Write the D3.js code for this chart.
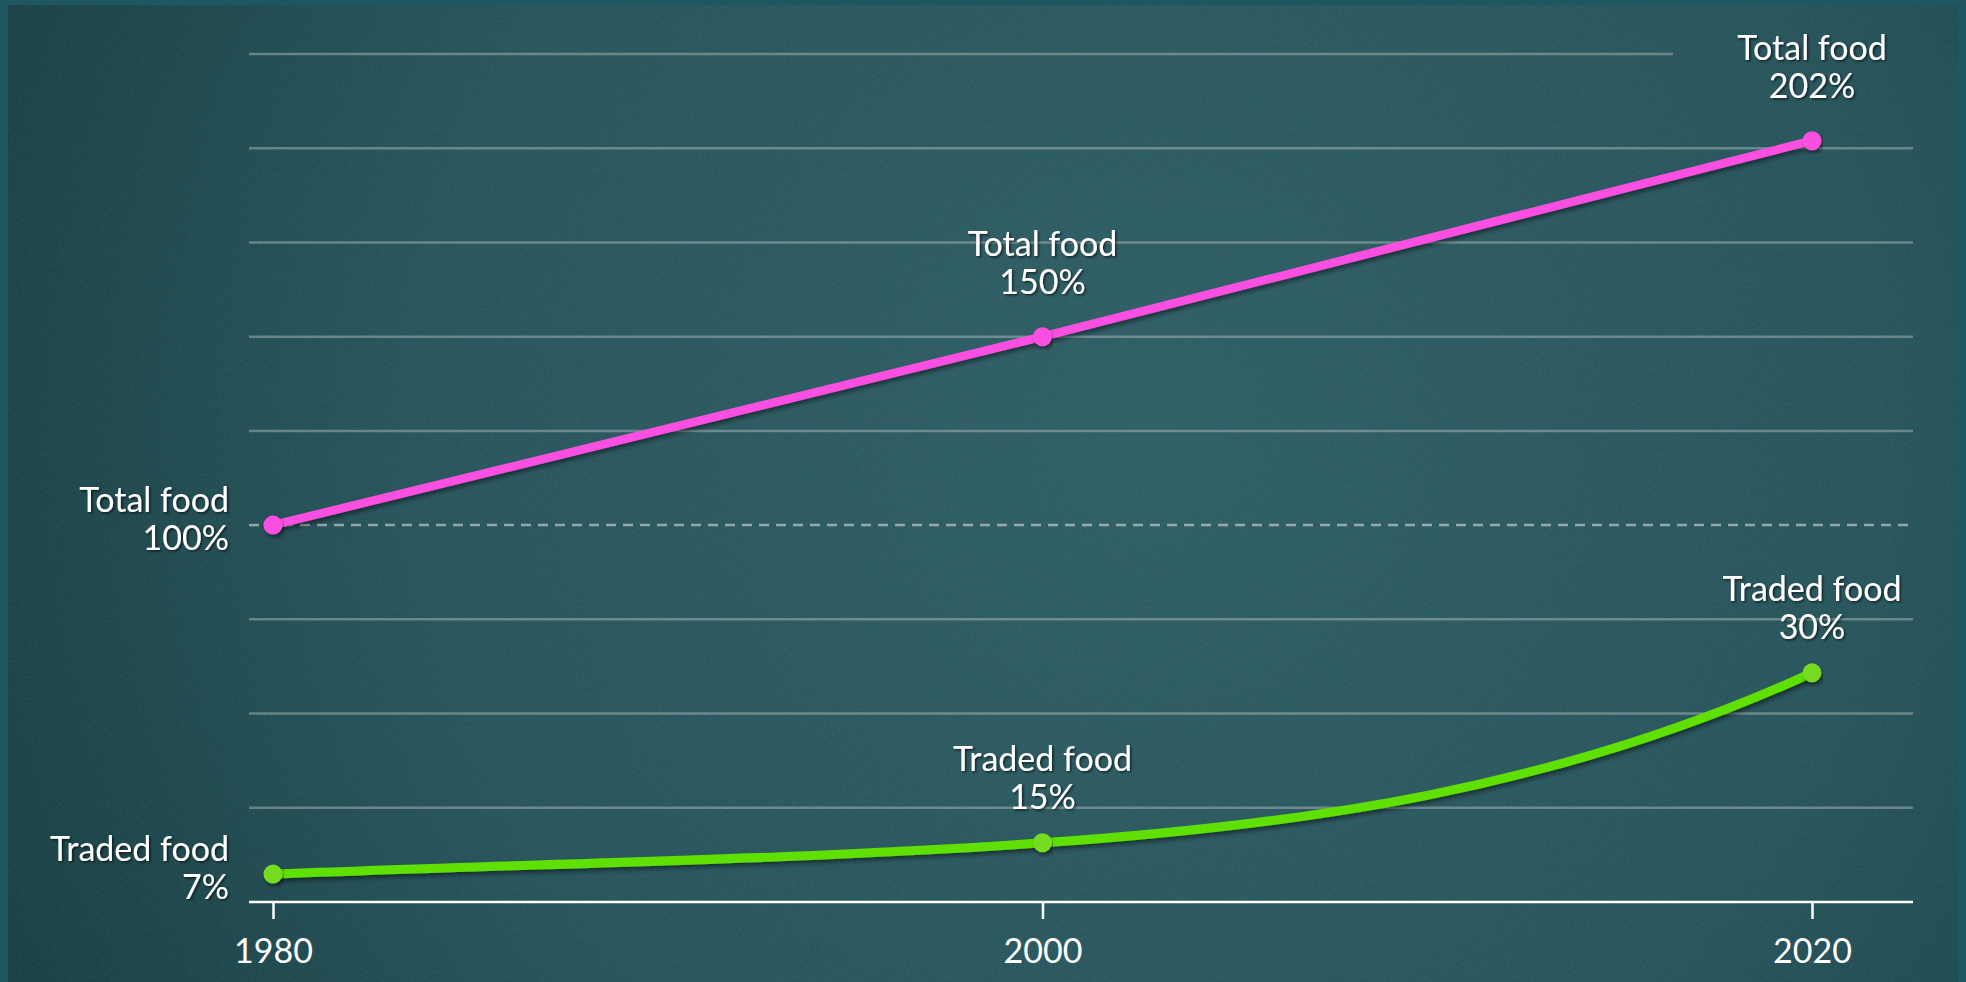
<!DOCTYPE html>
<html>
<head>
<meta charset="utf-8">
<script src="https://cdn.jsdelivr.net/npm/d3@7"></script>
<style>
  html, body { margin: 0; padding: 0; background: #1d545c; }
  svg { display: block; }
  text { font-family: Lato, "Open Sans", sans-serif; fill: #fff; }
</style>
</head>
<body>
<svg id="chart" width="1966" height="982"></svg>
<script>
const years = [1980, 2000, 2020];
const totalFood = [100, 150, 202];
const tradedFood = [7, 15, 30];
// the traded curve is not drawn to scale in the original, these are its heights on the index axis
const tradedLevel = [7.4, 15.7, 60.8];
const gridLevels = [25, 50, 75, 100, 125, 150, 175, 200, 225];
const baseLevel = 100;
const seriesNames = ['Total food', 'Traded food'];

const W = 1966, H = 982;
const plotLeft = 249, plotRight = 1913, topGridRight = 1673;
const pink = '#fb50e2', green = '#5fe000', greenDot = '#76dc22';

const svg = d3.select('#chart');
const x = d3.scaleLinear().domain([1980, 2020]).range([273, 1812]);
const y = d3.scaleLinear().domain([0, 225]).range([902, 54]);

// background
const defs = svg.append('defs');
const bg = defs.append('radialGradient').attr('id', 'bg')
	.attr('gradientUnits', 'userSpaceOnUse')
	.attr('cx', 1150).attr('cy', 430).attr('r', 1350);
bg.append('stop').attr('offset', '0%').attr('stop-color', '#2c5d64');
bg.append('stop').attr('offset', '55%').attr('stop-color', '#24525a');
bg.append('stop').attr('offset', '100%').attr('stop-color', '#113a3e');

const grain = defs.append('filter').attr('id', 'grain')
	.attr('x', 0).attr('y', 0).attr('width', '100%').attr('height', '100%');
grain.append('feTurbulence').attr('type', 'fractalNoise')
	.attr('baseFrequency', '0.9 0.35').attr('numOctaves', 3).attr('seed', 7);
grain.append('feColorMatrix').attr('type', 'saturate').attr('values', 0);

const shadow = defs.append('filter').attr('id', 'shadow')
	.attr('x', '-5%').attr('y', '-20%').attr('width', '110%').attr('height', '140%');
shadow.append('feDropShadow').attr('dx', 2).attr('dy', 3).attr('stdDeviation', 2)
	.attr('flood-color', '#000').attr('flood-opacity', 0.45);

const textShadow = defs.append('filter').attr('id', 'textShadow')
	.attr('x', '-10%').attr('y', '-20%').attr('width', '120%').attr('height', '140%');
textShadow.append('feDropShadow').attr('dx', 1.5).attr('dy', 1.5).attr('stdDeviation', 1)
	.attr('flood-color', '#000').attr('flood-opacity', 0.6);

svg.append('rect').attr('width', W).attr('height', H).attr('fill', '#1e5760');
svg.append('rect').attr('x', 8).attr('y', 5).attr('width', 1950).attr('height', H)
	.attr('fill', 'url(#bg)');
svg.append('rect').attr('x', 8).attr('y', 5).attr('width', 1950).attr('height', H)
	.attr('filter', 'url(#grain)').attr('opacity', 0.09);

// grid
svg.append('g').selectAll('line')
	.data(gridLevels)
	.join('line')
		.attr('x1', plotLeft)
		.attr('x2', d => d === d3.max(gridLevels) ? topGridRight : plotRight)
		.attr('y1', d => y(d))
		.attr('y2', d => y(d))
		.attr('stroke', d => d === baseLevel ? 'rgba(210,218,218,0.62)' : 'rgba(195,205,205,0.42)')
		.attr('stroke-width', 2.5)
		.attr('stroke-dasharray', d => d === baseLevel ? '10 7' : null);

// x axis
const xAxis = d3.axisBottom(x)
	.tickValues(years)
	.tickFormat(d3.format('d'))
	.tickSize(17);
const gx = svg.append('g')
	.attr('transform', `translate(0,${y(0)})`)
	.call(xAxis);
gx.select('.domain').remove();
gx.append('line')
	.attr('x1', plotLeft).attr('x2', plotRight)
	.attr('stroke', '#fff').attr('stroke-width', 2.5);
gx.selectAll('.tick line').attr('stroke', '#fff').attr('stroke-width', 2.5);
gx.selectAll('.tick text')
	.attr('y', 61).attr('dy', null)
	.style('font-size', '34px');

// curve for the traded series: hermite segments, harmonic tangents inside,
// growth-shaped tangent at the last point
const curveGrowth = context => {
	let pts = [];
	return {
		areaStart() {}, areaEnd() {},
		lineStart() { pts = []; },
		point(px, py) { pts.push([+px, +py]); },
		lineEnd() {
			const n = pts.length;
			if (!n) return;
			context.moveTo(pts[0][0], pts[0][1]);
			if (n < 3) { pts.slice(1).forEach(p => context.lineTo(p[0], p[1])); return; }
			const s = d3.pairs(pts).map(([a, b]) => (b[1] - a[1]) / (b[0] - a[0]));
			const m = pts.map((p, i) => {
				if (i === 0) return s[0];
				if (i === n - 1) {
					const a = s[n - 3], b = s[n - 2], r = b / a;
					return r > 0 && r !== 1 ? b * r * Math.log(r) / (r - 1) : b;
				}
				const a = s[i - 1], b = s[i];
				return a * b > 0 ? 2 * a * b / (a + b) : 0;
			});
			for (let i = 0; i < n - 1; i++) {
				const [x0, y0] = pts[i], [x1, y1] = pts[i + 1], h = x1 - x0;
				context.bezierCurveTo(x0 + h / 3, y0 + m[i] * h / 3, x1 - h / 3, y1 - m[i + 1] * h / 3, x1, y1);
			}
		}
	};
};

const totalPts = years.map((yr, i) => [x(yr), y(totalFood[i])]);
const tradedPts = years.map((yr, i) => [x(yr), y(tradedLevel[i])]);

svg.append('path')
	.attr('d', d3.line().curve(d3.curveLinear)(totalPts))
	.attr('fill', 'none').attr('stroke', pink).attr('stroke-width', 8.5)
	.attr('stroke-linecap', 'round')
	.attr('filter', 'url(#shadow)');
svg.append('path')
	.attr('d', d3.line().curve(curveGrowth)(tradedPts))
	.attr('fill', 'none').attr('stroke', green).attr('stroke-width', 9)
	.attr('stroke-linecap', 'round')
	.attr('filter', 'url(#shadow)');

svg.append('g').selectAll('circle')
	.data(totalPts)
	.join('circle')
		.attr('cx', d => d[0]).attr('cy', d => d[1]).attr('r', 9.5)
		.attr('fill', pink)
		.attr('filter', 'url(#shadow)');
svg.append('g').selectAll('circle')
	.data(tradedPts)
	.join('circle')
		.attr('cx', d => d[0]).attr('cy', d => d[1]).attr('r', 9.5)
		.attr('fill', greenDot)
		.attr('filter', 'url(#shadow)');

// point labels
const series = [
	{ name: seriesNames[0], values: totalFood, pts: totalPts, lift: 43 },
	{ name: seriesNames[1], values: tradedFood, pts: tradedPts, lift: 34 }
];
const lineGap = 38;
const labels = svg.append('g').attr('filter', 'url(#textShadow)').style('font-size', '34px');
series.forEach(s => {
	s.pts.forEach((p, i) => {
		const first = i === 0;
		const t = labels.append('text')
			.attr('text-anchor', first ? 'end' : 'middle')
			.attr('x', first ? p[0] - 44 : p[0])
			.attr('y', first ? p[1] + 25 - lineGap : p[1] - s.lift - lineGap);
		t.append('tspan').text(s.name);
		t.append('tspan')
			.attr('x', first ? p[0] - 44 : p[0])
			.attr('dy', lineGap)
			.text(s.values[i] + '%');
	});
});
</script>
</body>
</html>
